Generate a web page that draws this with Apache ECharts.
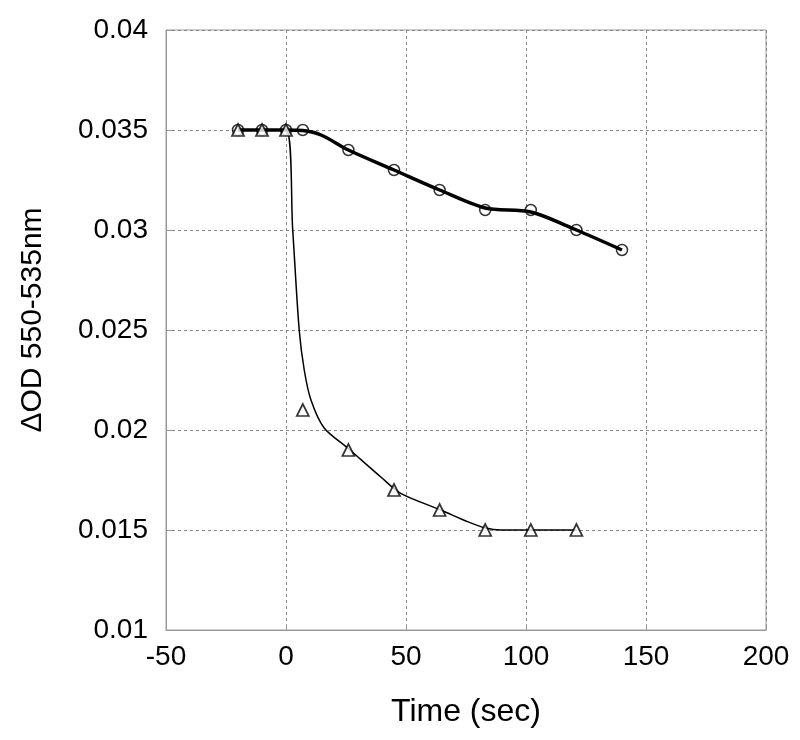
<!DOCTYPE html>
<html><head><meta charset="utf-8">
<script src="https://cdn.jsdelivr.net/npm/echarts@6/dist/echarts.min.js"></script>
<style>html,body{margin:0;padding:0;background:#fff}#c{width:800px;height:740px}</style>
</head><body><div id="c"></div>
<script>
// Measured points
var timeCircle = [-20, -10, 0, 7, 26, 45, 64, 83, 102, 121, 140];
var odCircle = [0.035, 0.035, 0.035, 0.035, 0.034, 0.033, 0.032, 0.031, 0.031, 0.030, 0.029];
var timeTriangle = [-20, -10, 0, 7, 26, 45, 64, 83, 102, 121];
var odTriangle = [0.035, 0.035, 0.035, 0.021, 0.019, 0.017, 0.016, 0.015, 0.015, 0.015];
// Fitted curves
var fitCircleT = [-20, -10, 0, 7, 14.6, 26, 45, 64, 83, 102, 121, 140];
var fitCircleY = [0.035, 0.035, 0.035, 0.03497, 0.03475, 0.034, 0.033, 0.032, 0.0311, 0.0309, 0.030, 0.029];
var fitTriT = [-20, -10, 0, 2.8, 5.5, 7.6, 10.4, 15.9, 25.7, 39.5, 47.8, 64.5, 75.6, 83.2, 89.4, 121];
var fitTriY = [0.035, 0.035, 0.035, 0.030, 0.025, 0.023, 0.0215, 0.0201, 0.0191, 0.01765, 0.01683, 0.0160, 0.01542, 0.0151, 0.0150, 0.0150];
var xTicks = [-50, 0, 50, 100, 150, 200];
var yTicks = [0.01, 0.015, 0.02, 0.025, 0.03, 0.035, 0.04];

function zip(a, b) { return a.map(function (v, i) { return [v, b[i]]; }); }

var chart = echarts.init(document.getElementById('c'));
var font = 'Liberation Sans, Arial, sans-serif';
var split = { show: true, lineStyle: { color: '#888', type: [3, 3], width: 1 } };
chart.setOption({
  animation: false,
  backgroundColor: '#fff',
  grid: { left: 166, top: 30, right: 34, bottom: 110, show: true, borderColor: '#999', borderWidth: 1, backgroundColor: 'transparent' },
  xAxis: {
    type: 'value', min: xTicks[0], max: xTicks[xTicks.length - 1], interval: 50,
    name: 'Time (sec)', nameLocation: 'middle', nameGap: 66,
    nameTextStyle: { fontFamily: font, fontSize: 32, color: '#000' },
    axisLine: { show: true, onZero: false, lineStyle: { color: '#999' } },
    axisTick: { show: true, inside: true, length: 6, lineStyle: { color: '#999' } },
    axisLabel: { fontFamily: font, fontSize: 28, color: '#000', margin: 13 },
    splitLine: split
  },
  yAxis: {
    type: 'value', min: yTicks[0], max: yTicks[yTicks.length - 1], interval: 0.005,
    name: '\u0394OD 550-535nm', nameLocation: 'middle', nameGap: 118, nameRotate: 90,
    nameTextStyle: { fontFamily: font, fontSize: 30, color: '#000', padding: [0, 0, 0, 20] },
    axisLine: { show: true, onZero: false, lineStyle: { color: '#999' } },
    axisTick: { show: true, inside: true, length: 6, lineStyle: { color: '#999' } },
    axisLabel: { fontFamily: font, fontSize: 28, color: '#000', margin: 18,
      formatter: function (v) { return String(+v.toFixed(3)); } },
    splitLine: split
  },
  series: [
    { type: 'line', data: zip(fitCircleT, fitCircleY), smooth: 0.3, showSymbol: false, symbol: 'none',
      lineStyle: { color: '#000', width: 3.5 }, z: 2 },
    { type: 'line', data: zip(fitTriT, fitTriY), smooth: 0.3, showSymbol: false, symbol: 'none',
      lineStyle: { color: '#000', width: 1.5 }, z: 2 },
    { type: 'scatter', data: zip(timeCircle, odCircle), symbol: 'circle', symbolSize: 11,
      itemStyle: { color: 'rgba(255,255,255,0)', borderColor: '#000', borderWidth: 1.5 }, z: 3 },
    { type: 'scatter', data: zip(timeTriangle, odTriangle), symbol: 'triangle', symbolSize: 12,
      itemStyle: { color: '#fff', borderColor: '#000', borderWidth: 1.7 }, z: 4 }
  ]
});
</script></body></html>
